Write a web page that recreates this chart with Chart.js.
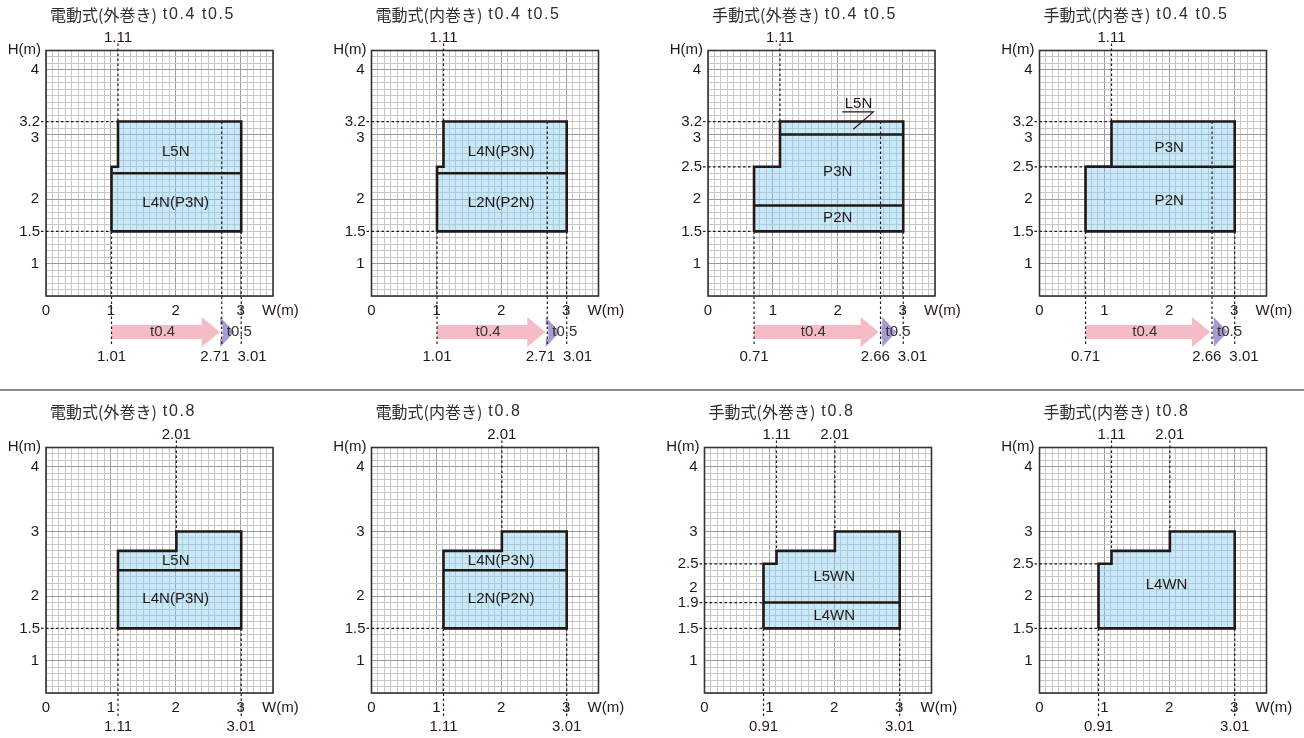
<!DOCTYPE html>
<html lang="ja">
<head>
<meta charset="utf-8">
<title>製作範囲</title>
<script src="https://cdn.jsdelivr.net/npm/chart.js@4.4.1/dist/chart.umd.min.js"></script>
<style>
  html, body { margin: 0; padding: 0; background: #fff; }
  #page { position: relative; width: 1304px; height: 738px; overflow: hidden; }
  #page canvas { position: absolute; }
  #divider { position: absolute; left: 0; top: 389px; width: 1304px; height: 2px; background: #8c8c8c; }
</style>
</head>
<body>
<div id="page"><div id="divider"></div></div>
<script>
// Production ranges, W (width) x H (height) in metres

const panelTitles = [
  '電動式(外巻き) t0.4 t0.5', '電動式(内巻き) t0.4 t0.5',
  '手動式(外巻き) t0.4 t0.5', '手動式(内巻き) t0.4 t0.5',
  '電動式(外巻き) t0.8', '電動式(内巻き) t0.8',
  '手動式(外巻き) t0.8', '手動式(内巻き) t0.8'
];

// axis ranges and tick labels
const wRange = [0, 3.5];
const hRange = [0.5, 4.3];
const wTicks = [0, 1, 2, 3];
const hTicks = [1, 2, 3, 4];

// outer boundary of each range, [W, H]
const outlineElecThin = [[1.01, 1.5], [1.01, 2.5], [1.11, 2.5], [1.11, 3.2], [3.01, 3.2], [3.01, 1.5]];
const outlineManuThin = [[0.71, 1.5], [0.71, 2.5], [1.11, 2.5], [1.11, 3.2], [3.01, 3.2], [3.01, 1.5]];
const outlineElecThick = [[1.11, 1.5], [1.11, 2.7], [2.01, 2.7], [2.01, 3.0], [3.01, 3.0], [3.01, 1.5]];
const outlineManuThick = [[0.91, 1.5], [0.91, 2.5], [1.11, 2.5], [1.11, 2.7], [2.01, 2.7], [2.01, 3.0], [3.01, 3.0], [3.01, 1.5]];

// boundaries between models, [H, W from, W to]
const splitElecThin = [[2.4, 1.01, 3.01]];
const splitManuOutThin = [[3.0, 1.11, 3.01], [1.9, 0.71, 3.01]];
const splitManuInThin = [[2.5, 0.71, 3.01]];
const splitElecThick = [[2.4, 1.11, 3.01]];
const splitManuOutThick = [[1.9, 0.91, 3.01]];

// model names, [text, W, H]
const namesElecOutThin = [['L5N', 2.0, 2.73], ['L4N(P3N)', 2.0, 1.94]];
const namesElecInThin = [['L4N(P3N)', 2.0, 2.73], ['L2N(P2N)', 2.0, 1.94]];
const namesManuOutThin = [['P3N', 2.0, 2.42], ['P2N', 2.0, 1.71]];
const namesManuInThin = [['P3N', 2.0, 2.79], ['P2N', 2.0, 1.97]];
const namesElecOutThick = [['L5N', 2.0, 2.54], ['L4N(P3N)', 2.0, 1.96]];
const namesElecInThick = [['L4N(P3N)', 2.0, 2.54], ['L2N(P2N)', 2.0, 1.96]];
const namesManuOutThick = [['L5WN', 2.0, 2.29], ['L4WN', 2.0, 1.69]];
const namesManuInThick = [['L4WN', 1.96, 2.17]];

// L5N callout (手動式(外巻き) t0.4 t0.5)
const calloutText = ['L5N', 2.32, 3.47];
const calloutLine = [[2.07, 3.35], [2.55, 3.35], [2.24, 3.08]];

// dimension marks: above, below and left of each grid
const topMarksThin = [1.11];
const topMarksElecThick = [2.01];
const topMarksManuThick = [1.11, 2.01];
const bottomMarksElecThin = [1.01, 2.71, 3.01];
const bottomMarksManuThin = [0.71, 2.66, 3.01];
const bottomMarksElecThick = [1.11, 3.01];
const bottomMarksManuThick = [0.91, 3.01];
const sideMarksElecThin = [3.2, 1.5];
const sideMarksManuThin = [3.2, 2.5, 1.5];
const sideMarksElecThick = [1.5];
const sideMarksManuOutThick = [2.5, 1.9, 1.5];
const sideMarksManuInThick = [2.5, 1.5];

// plate thickness by width, [from, to]
const t04Elec = [1.01, 2.71];
const t05Elec = [2.71, 3.01];
const t04Manu = [0.71, 2.66];
const t05Manu = [2.66, 3.01];

const panels = [
  { outline: outlineElecThin, splits: splitElecThin, names: namesElecOutThin, top: topMarksThin, bottom: bottomMarksElecThin, side: sideMarksElecThin, t04: t04Elec, t05: t05Elec },
  { outline: outlineElecThin, splits: splitElecThin, names: namesElecInThin, top: topMarksThin, bottom: bottomMarksElecThin, side: sideMarksElecThin, t04: t04Elec, t05: t05Elec },
  { outline: outlineManuThin, splits: splitManuOutThin, names: namesManuOutThin, top: topMarksThin, bottom: bottomMarksManuThin, side: sideMarksManuThin, t04: t04Manu, t05: t05Manu, callout: true },
  { outline: outlineManuThin, splits: splitManuInThin, names: namesManuInThin, top: topMarksThin, bottom: bottomMarksManuThin, side: sideMarksManuThin, t04: t04Manu, t05: t05Manu },
  { outline: outlineElecThick, splits: splitElecThick, names: namesElecOutThick, top: topMarksElecThick, bottom: bottomMarksElecThick, side: sideMarksElecThick },
  { outline: outlineElecThick, splits: splitElecThick, names: namesElecInThick, top: topMarksElecThick, bottom: bottomMarksElecThick, side: sideMarksElecThick },
  { outline: outlineManuThick, splits: splitManuOutThick, names: namesManuOutThick, top: topMarksManuThick, bottom: bottomMarksManuThick, side: sideMarksManuOutThick },
  { outline: outlineManuThick, splits: [], names: namesManuInThick, top: topMarksManuThick, bottom: bottomMarksManuThick, side: sideMarksManuInThick }
];

// page layout (pixels)
const gridLeft = [46, 371.5, 708, 1039.5, 46, 371.5, 704.5, 1039.5];
const gridTop = [50.5, 50.5, 50.5, 50.5, 447.5, 447.5, 447.5, 447.5];
const GRID_W = 227;
const GRID_H = 245.5;
const PAD_L = 50, PAD_R = 45, PAD_T = 50, PAD_B = 72;

const INK = '#231815';
const NUM_FONT = '15px "Liberation Sans", Arial, sans-serif';
const TITLE_NUM_FONT = '16px "Liberation Sans", Arial, sans-serif';
const CJK_FONT = '16px "Noto Sans CJK JP", sans-serif';

const near = (a, b) => Math.abs(a - b) < 1e-6;

// highest H on the outline at this W (or the top of the outline)
function topStop(outline, w) {
  const hs = outline.filter(pt => near(pt[0], w)).map(pt => pt[1]);
  return hs.length ? Math.max(...hs) : Math.max(...outline.map(pt => pt[1]));
}
// lowest H on the outline at this W; thickness borders start from the top
function bottomStop(outline, w) {
  const hs = outline.filter(pt => near(pt[0], w)).map(pt => pt[1]);
  return hs.length ? Math.min(...hs) : Math.max(...outline.map(pt => pt[1]));
}
// left-most W at this H, on the outline or on a split line
function sideStop(p, h) {
  const ws = p.outline.filter(pt => near(pt[1], h)).map(pt => pt[0]);
  p.splits.forEach(s => { if (near(s[0], h)) ws.push(s[1]); });
  return Math.min(...ws);
}

function text(ctx, s, x, y, align, font, color) {
  ctx.font = font;
  ctx.textAlign = align;
  ctx.textBaseline = 'middle';
  ctx.fillStyle = color || INK;
  ctx.fillText(s, x, y);
}

function arrow(ctx, x0, x1, yc, bodyH, headH, headL, color) {
  ctx.beginPath();
  ctx.moveTo(x0, yc - bodyH / 2);
  ctx.lineTo(x1 - headL, yc - bodyH / 2);
  ctx.lineTo(x1 - headL, yc - headH / 2);
  ctx.lineTo(x1, yc);
  ctx.lineTo(x1 - headL, yc + headH / 2);
  ctx.lineTo(x1 - headL, yc + bodyH / 2);
  ctx.lineTo(x0, yc + bodyH / 2);
  ctx.closePath();
  ctx.fillStyle = color;
  ctx.fill();
}

function makeDecor(p, title) {
  return {
    id: 'panelDecor',
    beforeDatasetsDraw(chart) {
      const { ctx, chartArea: a } = chart;
      ctx.save();
      ctx.strokeStyle = '#333';
      ctx.lineWidth = 1.6;
      ctx.strokeRect(a.left, a.top, a.right - a.left, a.bottom - a.top);
      ctx.restore();
    },
    afterDatasetsDraw(chart) {
      const { ctx, chartArea: a } = chart;
      const X = v => chart.scales.x.getPixelForValue(v);
      const Y = v => chart.scales.y.getPixelForValue(v);
      const thin = !!p.t04;
      const seg = (x1, y1, x2, y2) => { ctx.beginPath(); ctx.moveTo(x1, y1); ctx.lineTo(x2, y2); ctx.stroke(); };

      ctx.save();
      // thickness arrows
      if (thin) {
        const yc = a.bottom + 36;
        arrow(ctx, X(p.t04[0]), X(p.t04[1]) - 2, yc, 14, 30, 18, '#f6bcc6');
        arrow(ctx, X(p.t05[0]) + 1, X(p.t05[1]) - 7, yc, 14, 30, 14, '#a99bd2');
        text(ctx, 't0.4', (X(p.t04[0]) + X(p.t04[1])) / 2 - 4, yc, 'center', NUM_FONT, '#333');
        text(ctx, 't0.5', X(p.t05[0]) + 5, yc, 'left', NUM_FONT, '#333');
      }

      // dashed dimension guides
      ctx.setLineDash([2.5, 2.5]);
      ctx.lineWidth = 1.2;
      ctx.strokeStyle = INK;
      p.top.forEach(w => seg(X(w), a.top - 7, X(w), Y(topStop(p.outline, w))));
      p.bottom.forEach(w => seg(X(w), Y(bottomStop(p.outline, w)), X(w), a.bottom + (thin ? 50 : 24)));
      p.side.forEach(h => seg(a.left - 5, Y(h), X(sideStop(p, h)), Y(h)));
      ctx.setLineDash([]);

      // callout leader
      if (p.callout) {
        ctx.lineWidth = 1.2;
        ctx.beginPath();
        calloutLine.forEach((pt, i) => i ? ctx.lineTo(X(pt[0]), Y(pt[1])) : ctx.moveTo(X(pt[0]), Y(pt[1])));
        ctx.stroke();
        text(ctx, calloutText[0], X(calloutText[1]), Y(calloutText[2]), 'center', NUM_FONT);
      }
      ctx.restore();
    },
    afterDraw(chart) {
      const { ctx, chartArea: a } = chart;
      const X = v => chart.scales.x.getPixelForValue(v);
      const Y = v => chart.scales.y.getPixelForValue(v);
      const thin = !!p.t04;
      ctx.save();

      // title: CJK part, then slightly spaced latin part
      const cut = title.indexOf(' ');
      const head = title.slice(0, cut), tail = title.slice(cut);
      ctx.font = CJK_FONT;
      const hw = ctx.measureText(head).width;
      text(ctx, head, a.left + 4, a.top - 36, 'left', CJK_FONT, '#2e2e2e');
      if ('letterSpacing' in ctx) ctx.letterSpacing = '1.6px';
      text(ctx, tail, a.left + 4 + hw, a.top - 36, 'left', TITLE_NUM_FONT, '#2e2e2e');
      if ('letterSpacing' in ctx) ctx.letterSpacing = '0px';

      // axis names
      text(ctx, 'H(m)', a.left - 5, a.top - 1, 'right', NUM_FONT);
      text(ctx, 'W(m)', a.right - 11, a.bottom + 15, 'left', NUM_FONT);

      // W ticks
      wTicks.forEach(v => text(ctx, String(v), X(v), a.bottom + 15, 'center', NUM_FONT));

      // H ticks, nudged away from nearby dimension values
      hTicks.forEach(v => {
        let dy = 0;
        p.side.forEach(h => {
          const d = h - v;
          if (Math.abs(d) > 1e-6 && Math.abs(d) <= 0.15) dy = d > 0 ? 8 : -8;
          else if (Math.abs(d) > 0.15 && Math.abs(d) <= 0.25) dy = d > 0 ? 3 : -3;
        });
        text(ctx, String(v), a.left - 7, Y(v) + dy, 'right', NUM_FONT);
      });
      p.side.forEach(h => text(ctx, String(h), a.left - 6, Y(h), 'right', NUM_FONT));

      // dimension labels above and below
      p.top.forEach(w => text(ctx, w.toFixed(2), X(w), a.top - 13, 'center', NUM_FONT));
      const by = a.bottom + (thin ? 61 : 34);
      p.bottom.forEach((w, i) => {
        const prev = p.bottom[i - 1], next = p.bottom[i + 1];
        if (next !== undefined && next - w < 0.4) {
          text(ctx, w.toFixed(2), (X(w) + X(next)) / 2 - 2, by, 'right', NUM_FONT);
        } else if (prev !== undefined && w - prev < 0.4) {
          text(ctx, w.toFixed(2), (X(w) + X(prev)) / 2 + 6, by, 'left', NUM_FONT);
        } else {
          text(ctx, w.toFixed(2), X(w), by, 'center', NUM_FONT);
        }
      });

      // model names
      p.names.forEach(n => text(ctx, n[0], X(n[1]), Y(n[2]), 'center', NUM_FONT));
      ctx.restore();
    }
  };
}

const gridColor = c => {
  const v = c.tick ? c.tick.value : 0;
  return near(v, Math.round(v)) ? '#9b9b9b' : '#c8c8c8';
};

function buildDatasets(p) {
  const closed = p.outline.concat([p.outline[0]]);
  // higher order is drawn first: the filled outline goes under the split lines
  const sets = [{
    order: 2,
    data: closed.map(pt => ({ x: pt[0], y: pt[1] })),
    borderColor: INK,
    borderWidth: 2.6,
    backgroundColor: 'rgba(135, 205, 240, 0.45)',
    fill: 'shape',
    stepped: true,
    borderJoinStyle: 'miter',
    pointRadius: 0
  }];
  p.splits.forEach(s => sets.push({
    order: 1,
    data: [{ x: s[1], y: s[0] }, { x: s[2], y: s[0] }],
    borderColor: INK,
    borderWidth: 2.6,
    fill: false,
    pointRadius: 0
  }));
  return sets;
}

const page = document.getElementById('page');
panels.forEach((p, i) => {
  const gl = gridLeft[i], gt = gridTop[i];
  const cl = Math.floor(gl) - PAD_L;
  const ctop = Math.floor(gt) - PAD_T;
  const padL = gl - cl, padT = gt - ctop;
  const w = Math.ceil(padL + GRID_W + PAD_R);
  const h = Math.ceil(padT + GRID_H + PAD_B);

  const canvas = document.createElement('canvas');
  canvas.width = w;
  canvas.height = h;
  canvas.style.left = cl + 'px';
  canvas.style.top = ctop + 'px';
  canvas.style.width = w + 'px';
  canvas.style.height = h + 'px';
  page.appendChild(canvas);

  new Chart(canvas, {
    type: 'line',
    data: { datasets: buildDatasets(p) },
    options: {
      responsive: false,
      animation: false,
      events: [],
      layout: {
        autoPadding: false,
        padding: { left: padL, top: padT, right: w - padL - GRID_W, bottom: h - padT - GRID_H }
      },
      plugins: {
        legend: { display: false },
        tooltip: { enabled: false },
        title: { display: false }
      },
      scales: {
        x: {
          type: 'linear', min: wRange[0], max: wRange[1],
          ticks: { display: false, stepSize: 0.1 },
          grid: { drawTicks: false, color: gridColor, lineWidth: 1 },
          border: { display: false }
        },
        y: {
          type: 'linear', min: hRange[0], max: hRange[1],
          ticks: { display: false, stepSize: 0.1 },
          grid: { drawTicks: false, color: gridColor, lineWidth: 1 },
          border: { display: false }
        }
      }
    },
    plugins: [makeDecor(p, panelTitles[i])]
  });
});
</script>
</body>
</html>
